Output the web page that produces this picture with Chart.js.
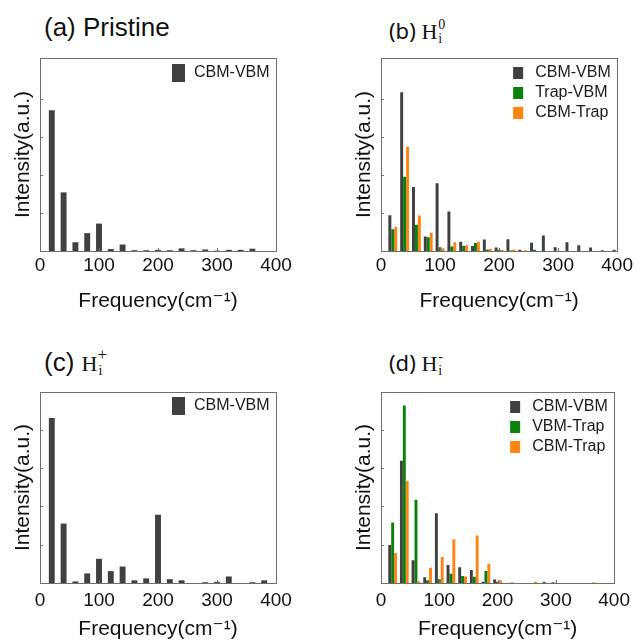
<!DOCTYPE html>
<html lang="en">
<head>
<meta charset="UTF-8">
<title>Frequency spectra</title>
<script src="https://cdn.jsdelivr.net/npm/chart.js"></script>
<style>
  body { margin: 0; background: #fff; }
  #page { position: relative; width: 636px; height: 643px; overflow: hidden; }
  .panel { position: absolute; }
  .ptitle { position: absolute; white-space: nowrap; color: #111; line-height: 30px;
            font-family: 'Liberation Sans', Arial, sans-serif; font-size: 26px; }
  .alt { font-family: 'Noto Sans', sans-serif; font-size: 22px; }
  .H { font-family: 'Liberation Serif', 'DejaVu Serif', serif; font-size: 22px; }
  /* stacked super/subscript after the H */
  .ss { display: inline-block; position: relative; width: 10px; height: 0; }
  .ss span { position: absolute; left: 1px; font-family: 'Liberation Serif', serif; font-size: 14px; line-height: 14px; }
  .ss .sp { top: -21px; }
  .ss .big { top: -23px; font-size: 17px; left: 0; }
  .ss .sb { top: -7px; }
</style>
</head>
<body>
<div id="page">
  <div class="ptitle" style="left:44px;top:12px">(a) Pristine</div>
  <div class="ptitle alt" style="left:389px;top:15px">(b) <span class="H">H</span><span class="ss"><span class="sp">0</span><span class="sb">i</span></span></div>
  <div class="ptitle" style="left:44px;top:347px">(c) <span class="H">H</span><span class="ss"><span class="sp big">+</span><span class="sb">i</span></span></div>
  <div class="ptitle alt" style="left:389px;top:347px">(d) <span class="H">H</span><span class="ss"><span class="sp">-</span><span class="sb">i</span></span></div>

  <div class="panel" style="left:0;top:0"><canvas id="panelA" width="318" height="321"></canvas></div>
  <div class="panel" style="left:318px;top:0"><canvas id="panelB" width="318" height="321"></canvas></div>
  <div class="panel" style="left:0;top:321px"><canvas id="panelC" width="318" height="322"></canvas></div>
  <div class="panel" style="left:318px;top:321px"><canvas id="panelD" width="318" height="322"></canvas></div>
</div>

<script>
// frequency bins (cm^-1)
const freq = [20, 40, 60, 80, 100, 120, 140, 160, 180, 200, 220, 240, 260, 280, 300, 320, 340, 360, 380, 400];
const xTicks = [0, 100, 200, 300, 400];

// (a) pristine
const pristineCbmVbm = [3.70, 1.54, 0.23, 0.47, 0.72, 0.05, 0.17, 0.02, 0.02, 0.03, 0.02, 0.07, 0.02, 0.04, 0.01, 0.03, 0.03, 0.06, 0, 0];

// (b) H_i^0
const h0CbmVbm  = [0.94, 4.17, 1.68, 0.38, 1.78, 1.04, 0.24, 0.13, 0.30, 0.09, 0.31, 0.03, 0.22, 0.41, 0.10, 0.23, 0.15, 0.09, 0.02, 0.03];
const h0TrapVbm = [0.57, 1.95, 0.69, 0.36, 0.10, 0.12, 0.13, 0.21, 0.04, 0.03, 0.01, 0, 0.03, 0, 0, 0, 0, 0, 0, 0];
const h0CbmTrap = [0.63, 2.74, 0.93, 0.48, 0.07, 0.23, 0.15, 0.24, 0.06, 0.03, 0.04, 0.02, 0, 0, 0, 0, 0, 0, 0, 0];

// (c) H_i^+
const hPlusCbmVbm = [4.30, 1.55, 0.04, 0.25, 0.63, 0.31, 0.43, 0.07, 0.12, 1.78, 0.10, 0.07, 0, 0.02, 0.03, 0.17, 0, 0.02, 0.07, 0];

// (d) H_i^-
const hMinusCbmVbm  = [0.99, 3.19, 0.59, 0.15, 1.82, 0.47, 0.41, 0.34, 0.03, 0.09, 0, 0, 0, 0, 0.02, 0, 0, 0, 0, 0];
const hMinusVbmTrap = [1.58, 4.63, 2.17, 0.07, 0.10, 0.24, 0.18, 0.16, 0.31, 0.03, 0, 0, 0, 0.03, 0, 0, 0, 0, 0, 0];
const hMinusCbmTrap = [0.78, 2.66, 0.04, 0.40, 0.68, 1.14, 0.17, 1.24, 0.50, 0.07, 0.02, 0, 0.03, 0, 0, 0, 0, 0.02, 0, 0];

const COLORS = { 'CBM-VBM': '#404040', 'Trap-VBM': '#0b800b', 'VBM-Trap': '#0b800b', 'CBM-Trap': '#ff8412' };
const FAMILY = "'Liberation Sans', 'DejaVu Sans', Arial, sans-serif";

// gray frame round the plot + small inward ticks
const frame = {
    id: 'frame',
    afterDatasetsDraw(chart) {
        const { ctx, chartArea: a, scales: { x, y } } = chart;
        ctx.save();
        ctx.strokeStyle = '#6e6e6e';
        ctx.lineWidth = 1;
        ctx.beginPath();
        y.ticks.forEach(t => {
            const py = Math.round(y.getPixelForValue(t.value)) + 0.5;
            if (t.value <= 0 || py < a.top + 6) return;
            ctx.moveTo(a.left, py);
            ctx.lineTo(a.left + 3, py);
        });
        x.ticks.forEach(t => {
            if (t.value <= x.min || t.value >= x.max) return;
            const px = Math.round(x.getPixelForValue(t.value)) + 0.5;
            ctx.moveTo(px, a.bottom);
            ctx.lineTo(px, a.bottom - 3);
        });
        ctx.stroke();
        ctx.strokeRect(Math.round(a.left) + 0.5, Math.round(a.top) + 0.5, Math.round(a.width), Math.round(a.height));
        ctx.restore();
    }
};

// legend inside the plot, top right
const boxLegend = {
    id: 'boxLegend',
    afterDraw(chart, args, opts) {
        const { ctx, chartArea: a } = chart;
        ctx.save();
        ctx.font = '16px ' + FAMILY;
        ctx.textBaseline = 'middle';
        chart.data.datasets.forEach((ds, i) => {
            const cy = a.top + opts.top + i * 20;
            const left = a.right - 104;
            ctx.fillStyle = ds.backgroundColor;
            ctx.fillRect(left, cy - opts.markerH / 2, opts.markerW, opts.markerH);
            ctx.fillStyle = '#1a1a1a';
            ctx.fillText(ds.label, left + 22, cy);
        });
        ctx.restore();
    }
};

function makePanel(id, series, o) {
    new Chart(document.getElementById(id), {
        type: 'bar',
        data: {
            labels: freq,
            datasets: series.map(s => ({
                label: s.label,
                data: s.data,
                backgroundColor: COLORS[s.label],
                borderWidth: 0,
                categoryPercentage: o.catPct,
                barPercentage: 1
            }))
        },
        options: {
            responsive: false,
            animation: false,
            layout: { padding: o.padding },
            plugins: {
                legend: { display: false },
                tooltip: { enabled: false },
                boxLegend: o.legend
            },
            scales: {
                x: {
                    type: 'linear',
                    min: xTicks[0],
                    max: xTicks[xTicks.length - 1],
                    offset: false,
                    grid: { display: false, drawTicks: false },
                    border: { display: false },
                    ticks: { stepSize: 100, padding: o.tickPad, maxRotation: 0, color: '#111', font: { size: 19, family: FAMILY } },
                    title: { display: true, text: 'Frequency(cm⁻¹)', color: '#111', padding: 0, font: { size: 21, family: FAMILY } },
                    afterFit: s => { s.height = o.xHeight; }
                },
                y: {
                    min: 0,
                    max: o.yMax,
                    grid: { display: false, drawTicks: false },
                    border: { display: false },
                    ticks: { display: false, stepSize: 1 },
                    title: { display: true, text: 'Intensity(a.u.)', color: '#111', padding: { top: 11, bottom: 0 }, font: { size: 21, family: FAMILY } },
                    afterFit: s => { s.width = 40; }
                }
            }
        },
        plugins: [frame, boxLegend]
    });
}

makePanel('panelA', [{ label: 'CBM-VBM', data: pristineCbmVbm }], {
    catPct: 0.5, yMax: 5.07, tickPad: 3, xHeight: 63,
    padding: { left: 0, top: 58, right: 42, bottom: 7 },
    legend: { top: 15, markerW: 13, markerH: 18 }
});

makePanel('panelB', [
    { label: 'CBM-VBM', data: h0CbmVbm },
    { label: 'Trap-VBM', data: h0TrapVbm },
    { label: 'CBM-Trap', data: h0CbmTrap }
], {
    catPct: 0.75, yMax: 5.07, tickPad: 3, xHeight: 63,
    padding: { left: 23, top: 58, right: 18, bottom: 7 },
    legend: { top: 15, markerW: 10, markerH: 12 }
});

makePanel('panelC', [{ label: 'CBM-VBM', data: hPlusCbmVbm }], {
    catPct: 0.5, yMax: 4.98, tickPad: 6, xHeight: 59,
    padding: { left: 0, top: 71, right: 42, bottom: 1 },
    legend: { top: 14, markerW: 13, markerH: 18 }
});

makePanel('panelD', [
    { label: 'CBM-VBM', data: hMinusCbmVbm },
    { label: 'VBM-Trap', data: hMinusVbmTrap },
    { label: 'CBM-Trap', data: hMinusCbmTrap }
], {
    catPct: 0.75, yMax: 4.98, tickPad: 6, xHeight: 59,
    padding: { left: 23, top: 71, right: 18, bottom: 1 },
    legend: { top: 15, markerW: 10, markerH: 12 }
});
</script>
</body>
</html>
